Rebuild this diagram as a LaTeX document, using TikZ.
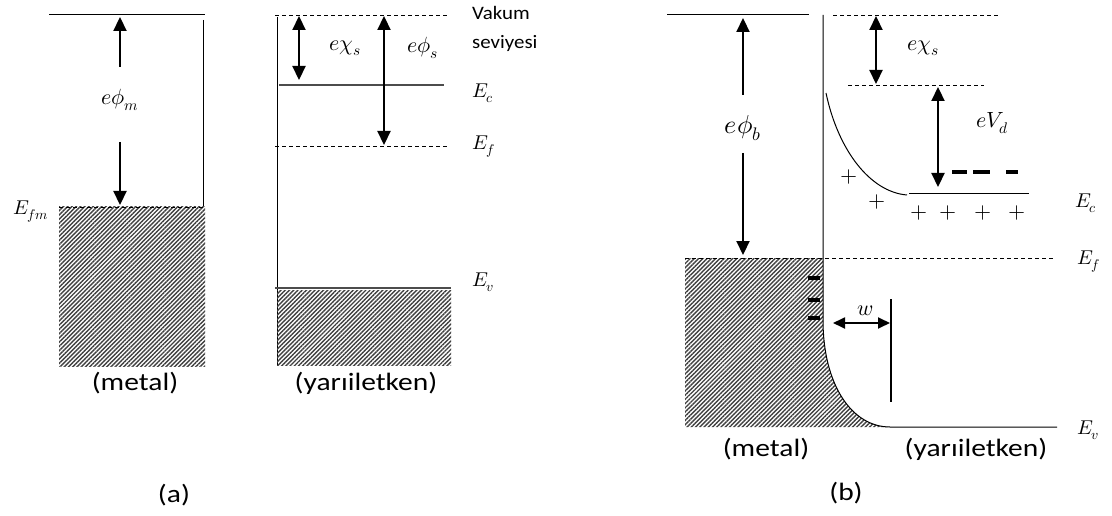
\documentclass[tikz,border=0pt]{standalone}
\usepackage{fontspec}
\usepackage{unicode-math}
\setmainfont{Carlito}
\setmathfont{Latin Modern Math}
\newfontfamily\widefont[FakeStretch=1.18]{Carlito}
\newfontfamily\vacfont[FakeStretch=1.1]{Carlito}
\usepackage{tikz}
\usetikzlibrary{arrows.meta,patterns.meta}

\begin{document}
\begin{tikzpicture}[x=1pt, y=-1pt,
    thinline/.style={line width=1pt},
    bandline/.style={line width=1.5pt, black!70},
    dashlevel/.style={line width=0.8pt, dash pattern=on 4pt off 3pt},
    bigarrow/.style={line width=2.2pt, -{Triangle[width=13pt,length=14pt]}},
    dblarrow/.style={line width=2.2pt, {Triangle[width=13pt,length=14pt]}-{Triangle[width=13pt,length=14pt]}},
    warrow/.style={line width=1.8pt, {Triangle[width=11pt,length=12pt]}-{Triangle[width=11pt,length=12pt]}},
    hatch/.style={pattern={Lines[angle=45,distance=3pt,line width=1.4pt]}, pattern color=black!75},
    elabel/.style={font=\fontsize{20}{22}\selectfont, anchor=west, inner sep=0pt},
    qlabel/.style={font=\fontsize{22}{24}\selectfont, inner sep=0pt},
    sublabel/.style={font=\fontsize{25}{27}\widefont, inner sep=0pt},
    vaclabel/.style={font=\fontsize{19}{21}\vacfont, anchor=west, inner sep=0pt},
    pluslbl/.style={font=\fontsize{22}{24}\selectfont, inner sep=0pt},
    chargebar/.style={line width=4pt}]
    \useasboundingbox (0,0) rectangle (1112,516);

    % ---------------- (a) metal, before contact ----------------
    \draw[thinline] (49,15) -- (205,15);
    \draw[thinline] (203,20) -- (203,207);
    \fill[hatch] (59,207) rectangle (205,366);
    \draw[dashlevel] (59,207) -- (205,207);
    \node[elabel, anchor=east] (Efm) at (49,212) {$E_{fm}$};

    % work function of the metal
    \node[qlabel] (phim) at (120,100) {$e\phi_m$};
    \coordinate (m-up) at (120,67);
    \coordinate (m-vac) at (120,17);
    \coordinate (m-dn) at (120,142);
    \coordinate (m-fermi) at (120,205);
    \draw[bigarrow] (m-up) -- (m-vac);
    \draw[bigarrow] (m-dn) -- (m-fermi);

    % ---------------- (a) semiconductor ----------------
    \draw[thinline] (277,17) -- (277,365);
    \draw[dashlevel] (275,15) -- (448,15);
    \draw[bandline, line width=1.2pt] (279,85) -- (444,85);
    \draw[dashlevel] (275,146) -- (448,146);
    \fill[hatch] (277,290) rectangle (451,365);
    \draw[bandline] (275,288) -- (451,288);

    \coordinate (s-vac1) at (299,16);
    \coordinate (s-c) at (299,80);
    \coordinate (s-vac2) at (384,16);
    \coordinate (s-f) at (384,145);
    \draw[dblarrow] (s-vac1) -- (s-c);
    \draw[dblarrow] (s-vac2) -- (s-f);
    \node[qlabel] (chis) at (345,48) {$e\chi_s$};
    \node[qlabel] (phis) at (423,48) {$e\phi_s$};

    \node[vaclabel] (vakum) at (472,13) {Vakum};
    \node[vaclabel] (seviye) at (472,43) {seviyesi};
    \node[elabel] (Ec-a) at (472,93) {$E_c$};
    \node[elabel] (Ef-a) at (472,147) {$E_f$};
    \node[elabel] (Ev-a) at (472,282) {$E_v$};

    \node[sublabel] (metal-a) at (135,383) {(metal)};
    \node[sublabel] (semi-a) at (366,383) {(yarıiletken)};
    \node[sublabel] (cap-a) at (174,495) {(a)};

    % ---------------- (b) after contact ----------------
    % metal side
    \draw[thinline] (667,15) -- (809,15);
    \fill[hatch] (685,258) -- (823,258) -- (823,320)
        .. controls (823,385) and (852,427) .. (890,427) -- (685,427) -- cycle;
    \draw[thinline] (823,15) -- (823,320)
        .. controls (823,385) and (852,427) .. (890,427) -- (1057,427);
    \draw[dashlevel] (685,258) -- (1053,258);

    % barrier height
    \node[qlabel, font=\fontsize{26}{28}\selectfont] (phib) at (743,128) {$e\phi_b$};
    \coordinate (b-up) at (743,95);
    \coordinate (b-vac) at (743,18);
    \coordinate (b-dn) at (743,153);
    \coordinate (b-fermi) at (743,255);
    \draw[bigarrow] (b-up) -- (b-vac);
    \draw[bigarrow] (b-dn) -- (b-fermi);

    % negative charge at the metal surface
    \foreach \y in {278,300,318} \draw[chargebar, line width=3.5pt] (808,\y) -- (820,\y);

    % semiconductor side
    \draw[dashlevel] (833,15) -- (998,15);
    \draw[dashlevel] (848,85) -- (984,85);
    \draw[thinline] (826,93) .. controls (838,150) and (870,192) .. (907,195);
    \draw[thinline] (909,194) -- (1029,194);

    \coordinate (b-vac2) at (876,16);
    \coordinate (b-c) at (876,84);
    \draw[dblarrow] (b-vac2) -- (b-c);
    \node[qlabel] (chis-b) at (923,48) {$e\chi_s$};

    \coordinate (vd-top) at (938,87);
    \coordinate (vd-bot) at (938,187);
    \draw[dblarrow] (vd-top) -- (vd-bot);
    \node[qlabel] (Vd) at (992,123) {$eV_d$};

    % donor level
    \draw[chargebar] (952,172) -- (967,172);
    \draw[chargebar] (973,172) -- (990,172);
    \draw[chargebar] (1006,172) -- (1018,172);

    % ionized donors
    \node[pluslbl] (p1) at (849,177) {$+$};
    \node[pluslbl] (p2) at (877,202) {$+$};
    \foreach \x [count=\i from 3] in {919,948,983,1017}
        \node[pluslbl] (p\i) at (\x,213) {$+$};

    % depletion width
    \draw[thinline, line width=1.6pt] (891,299) -- (891,402);
    \coordinate (w-l) at (833,323);
    \coordinate (w-r) at (890,323);
    \draw[warrow] (w-l) -- (w-r);
    \node[qlabel] (w) at (865,311) {$w$};

    \node[elabel] (Ec-b) at (1075,203) {$E_c$};
    \node[elabel] (Ef-b) at (1077,262) {$E_f$};
    \node[elabel] (Ev-b) at (1077,430) {$E_v$};

    \node[sublabel] (metal-b) at (766,449) {(metal)};
    \node[sublabel] (semi-b) at (976,449) {(yarıiletken)};
    \node[sublabel] (cap-b) at (846,493) {(b)};
\end{tikzpicture}
\end{document}
